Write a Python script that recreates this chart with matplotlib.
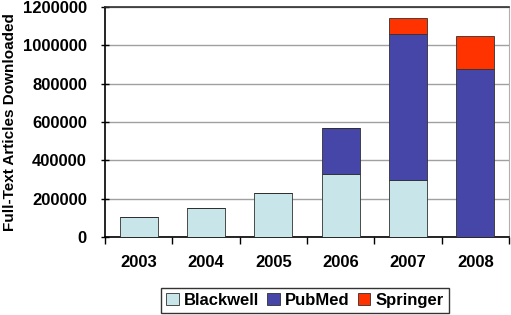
import matplotlib

matplotlib.use("Agg")
import matplotlib.pyplot as plt
import numpy as np

plt.rcParams["font.family"] = ["Liberation Sans", "DejaVu Sans"]
plt.rcParams["font.weight"] = "bold"
plt.rcParams["axes.labelweight"] = "bold"

years = ["2003", "2004", "2005", "2006", "2007", "2008"]
blackwell = [103000, 150000, 228000, 327000, 297000, 0]
pubmed = [0, 0, 0, 243000, 762000, 875000]
springer = [0, 0, 0, 0, 82000, 175000]

colors = {"Blackwell": "#C8E6E9", "PubMed": "#4646A8", "Springer": "#FF3300"}

fig = plt.figure(figsize=(5.11, 3.15), dpi=100)
ax = fig.add_axes([105 / 511, 78 / 315, 404 / 511, 230 / 315])

x = np.arange(len(years))
w = 0.56
bot = np.zeros(len(years))
for name, vals in [("Blackwell", blackwell), ("PubMed", pubmed), ("Springer", springer)]:
    v = np.array(vals, float)
    ax.bar(x, v, w, bottom=bot, color=colors[name], edgecolor="#303030",
           linewidth=0.6, label=name, zorder=3)
    bot += v

yt = np.arange(0, 1200001, 200000)
ax.set_xlim(-0.5, len(years) - 0.5)
ax.set_ylim(0, 1200000)
ax.set_yticks(yt)
ax.set_yticklabels([f"{int(t)}" for t in yt], fontsize=12)
ax.set_xticks(x)
ax.set_xticklabels(years, fontsize=12)
ax.set_xticks(np.arange(-0.5, len(years), 1), minor=True)
ax.tick_params(axis="x", which="major", length=0, pad=13)
ax.tick_params(axis="x", which="minor", length=5, width=1, direction="out")
ax.tick_params(axis="y", length=6, width=1, direction="inout", pad=10)
ax.grid(axis="y", color="#A0A0A0", linewidth=1, zorder=0)

for s in ["left", "bottom"]:
    ax.spines[s].set_color("black")
    ax.spines[s].set_linewidth(1.2)
ax.spines["top"].set_color("#303030")
ax.spines["top"].set_linewidth(1.2)
ax.spines["right"].set_color("#B0B0B0")
ax.spines["right"].set_linewidth(0.8)

ax.set_ylabel("Full-Text Articles Downloaded", fontsize=11)
ax.yaxis.set_label_coords(-0.218, 0.5)

leg = fig.legend(loc="lower center", bbox_to_anchor=(305 / 511, 2 / 315), ncol=3,
                 fontsize=12, frameon=True, fancybox=False, edgecolor="black",
                 handlelength=0.75, handleheight=0.75, handletextpad=0.3,
                 columnspacing=0.5, borderpad=0.3, borderaxespad=0)
leg.get_frame().set_linewidth(1.0)

fig.savefig("out.png", dpi=100)
